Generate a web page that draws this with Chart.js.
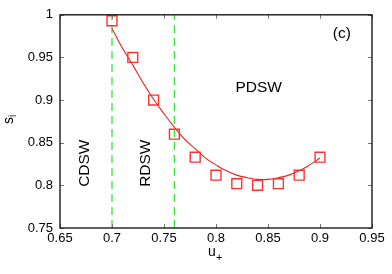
<!DOCTYPE html>
<html>
<head>
<meta charset="utf-8">
<script src="https://cdn.jsdelivr.net/npm/chart.js@4/dist/chart.umd.min.js"></script>
<style>
  html, body { margin: 0; padding: 0; background: #fff; }
  #wrap { width: 392px; height: 274px; }
</style>
</head>
<body>
<div id="wrap"><canvas id="c" width="392" height="274"></canvas></div>
<script>
// ── DATA ─────────────────────────────────────────

// measured points (open squares)
const U_PLUS = [0.70, 0.72, 0.74, 0.76, 0.78, 0.80, 0.82, 0.84, 0.86, 0.88, 0.90];
const S_I    = [0.993, 0.950, 0.900, 0.860, 0.833, 0.812, 0.802, 0.800, 0.802, 0.812, 0.833];

// fitted curve
const FIT_U = [0.70, 0.71, 0.72, 0.73, 0.74, 0.75, 0.76, 0.77, 0.78, 0.79, 0.80,
               0.81, 0.82, 0.83, 0.84, 0.85, 0.86, 0.87, 0.88, 0.89, 0.90];
const FIT_S = [0.984, 0.961, 0.941, 0.920, 0.901, 0.884, 0.868, 0.854, 0.843, 0.832, 0.824,
               0.817, 0.812, 0.809, 0.807, 0.807, 0.809, 0.812, 0.817, 0.824, 0.832];

// regime boundaries (green dashed)
const BOUNDS = [0.70, 0.76];

const X_TICKS = [0.65, 0.7, 0.75, 0.8, 0.85, 0.9, 0.95];
const Y_TICKS = [0.75, 0.8, 0.85, 0.9, 0.95, 1];

// region labels: [text, u, s, rotated]
const LABELS = [
  ["(c)",  0.921, 0.978, false],
  ["PDSW", 0.841, 0.915, false],
  ["CDSW", 0.674, 0.826, true],
  ["RDSW", 0.732, 0.826, true],
];

// ── HELPERS ──────────────────────────────────────

const FONT = "Liberation Sans, Arial, Helvetica, sans-serif";
const fmt = v => String(parseFloat(Number(v).toFixed(2)));

const boundSets = BOUNDS.map(b => ({
  type: "line",
  data: [{ x: b, y: 0.75 }, { x: b, y: 1 }],
  borderColor: "#3ae43a",
  borderWidth: 1.3,
  borderDash: [8, 5],
  pointRadius: 0,
  fill: false,
  order: 3,
}));

// frame, inward ticks, titles and region labels
const framePlugin = {
  id: "frame",
  afterDraw(chart) {
    const { ctx, chartArea: a, scales: { x, y } } = chart;
    ctx.save();

    // inward tick marks on all four sides
    ctx.strokeStyle = "#777";
    ctx.lineWidth = 1;
    ctx.beginPath();
    X_TICKS.forEach(v => {
      const px = Math.round(x.getPixelForValue(v)) + 0.5;
      ctx.moveTo(px, a.bottom); ctx.lineTo(px, a.bottom - 4);
      ctx.moveTo(px, a.top);    ctx.lineTo(px, a.top + 4);
    });
    Y_TICKS.forEach(v => {
      const py = Math.round(y.getPixelForValue(v)) + 0.5;
      ctx.moveTo(a.left, py);  ctx.lineTo(a.left + 4, py);
      ctx.moveTo(a.right, py); ctx.lineTo(a.right - 4, py);
    });
    ctx.stroke();

    // frame
    ctx.strokeStyle = "#1a1a1a";
    ctx.lineWidth = 1.4;
    ctx.strokeRect(a.left, a.top, a.right - a.left, a.bottom - a.top);

    ctx.fillStyle = "#000";
    ctx.font = "15.5px " + FONT;
    ctx.textAlign = "center";
    ctx.textBaseline = "middle";

    LABELS.forEach(([t, u, s, rot]) => {
      const px = x.getPixelForValue(u), py = y.getPixelForValue(s);
      ctx.save();
      ctx.translate(px, py);
      if (rot) ctx.rotate(-Math.PI / 2);
      ctx.fillText(t, 0, 0);
      ctx.restore();
    });

    // x title: u_+
    ctx.textAlign = "left";
    ctx.textBaseline = "alphabetic";
    ctx.font = "14px " + FONT;
    ctx.fillText("u", 208, 256);
    ctx.font = "11px " + FONT;
    ctx.fillText("+", 216, 261);

    // y title: s_i (rotated)
    ctx.save();
    ctx.translate(13, 124);
    ctx.rotate(-Math.PI / 2);
    ctx.font = "14px " + FONT;
    ctx.fillText("s", 0, 0);
    ctx.font = "10px " + FONT;
    ctx.fillText("i", 7, 3);
    ctx.restore();

    ctx.restore();
  },
};

// ── CHART ────────────────────────────────────────

new Chart(document.getElementById("c"), {
  type: "scatter",
  data: {
    datasets: [
      {
        type: "line",
        data: FIT_U.map((u, i) => ({ x: u, y: FIT_S[i] })),
        borderColor: "#f01e1e",
        borderWidth: 1.1,
        pointRadius: 0,
        tension: 0.4,
        fill: false,
        order: 2,
      },
      {
        data: U_PLUS.map((u, i) => ({ x: u, y: S_I[i] })),
        pointStyle: "rect",
        pointRadius: 7,
        pointBorderWidth: 1.4,
        pointBorderColor: "#ff3030",
        pointBackgroundColor: "rgba(0,0,0,0)",
        order: 1,
      },
      ...boundSets,
    ],
  },
  options: {
    responsive: false,
    animation: false,
    devicePixelRatio: 1,
    layout: { padding: { left: 0, top: 11, right: 20, bottom: 0 } },
    plugins: { legend: { display: false }, tooltip: { enabled: false } },
    scales: {
      x: {
        type: "linear",
        min: 0.65, max: 0.95,
        afterBuildTicks: s => { s.ticks = X_TICKS.map(v => ({ value: v })); },
        afterFit: s => { s.height = 46; },
        grid: { display: false, drawTicks: false },
        border: { display: false },
        ticks: {
          padding: 3,
          color: "#000",
          font: { family: FONT, size: 13 },
          callback: fmt,
          maxRotation: 0,
        },
      },
      y: {
        type: "linear",
        min: 0.75, max: 1,
        afterBuildTicks: s => { s.ticks = Y_TICKS.map(v => ({ value: v })); },
        afterFit: s => { s.width = 60; },
        grid: { display: false, drawTicks: false },
        border: { display: false },
        ticks: {
          padding: 7,
          color: "#000",
          font: { family: FONT, size: 13 },
          callback: fmt,
        },
      },
    },
  },
  plugins: [framePlugin],
});
</script>
</body>
</html>
